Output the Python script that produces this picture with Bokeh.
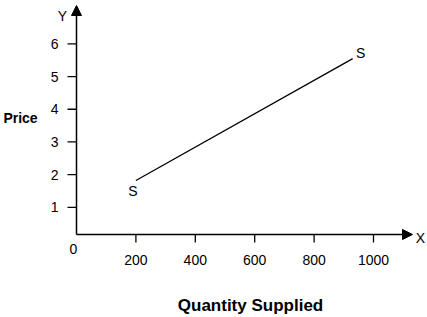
import math
from bokeh.plotting import figure
from bokeh.models import Arrow, NormalHead
from bokeh.core.properties import value
from bokeh.embed import file_html
from bokeh.resources import INLINE

# Data
quantity = [200, 930]
price = [1.82, 5.55]
x_ticks = [200, 400, 600, 800, 1000]
x_tick_labels = ["200", "400", "600", "800", "1000"]
y_ticks = [1, 2, 3, 4, 5, 6]
y_tick_labels = ["1", "2", "3", "4", "5", "6"]

W, H = 427, 317
# pixel geometry of the plotting area
AX_LEFT_PX, AX_BOTTOM_PX = 76, 234
PX_PER_X = 0.297   # px per quantity unit
PX_PER_Y = 32.7    # px per price unit
Y_AT_AXIS = 0.17

X0 = -AX_LEFT_PX / PX_PER_X
X1 = (W - AX_LEFT_PX) / PX_PER_X
Y1 = Y_AT_AXIS + AX_BOTTOM_PX / PX_PER_Y
Y0 = Y_AT_AXIS - (H - AX_BOTTOM_PX) / PX_PER_Y

XA_END = (412 - AX_LEFT_PX) / PX_PER_X   # x-axis arrow tip
YA_END = Y_AT_AXIS + (AX_BOTTOM_PX - 5) / PX_PER_Y  # y-axis arrow tip

def dx(px):
    return px / PX_PER_X

def dy(px):
    return px / PX_PER_Y

p = figure(width=W, height=H, x_range=(X0, X1), y_range=(Y0, Y1),
           output_backend="svg", toolbar_location=None,
           x_axis_location=None, y_axis_location=None,
           min_border=0)
p.outline_line_color = None
p.grid.visible = False
p.background_fill_color = "white"
p.border_fill_color = "white"

# axes with arrow heads
head = dict(size=10, fill_color="black", line_color="black")
p.add_layout(Arrow(x_start=0, y_start=Y_AT_AXIS, x_end=XA_END, y_end=Y_AT_AXIS,
                   line_width=1.5, line_color="black", end=NormalHead(**head)))
p.add_layout(Arrow(x_start=0, y_start=Y_AT_AXIS, x_end=0, y_end=YA_END,
                   line_width=1.5, line_color="black", end=NormalHead(**head)))

# tick marks
p.ray(x=x_ticks, y=[Y_AT_AXIS] * len(x_ticks), length=8, angle=-math.pi / 2,
      length_units="screen", line_color="black", line_width=1.3)
p.ray(x=[0] * len(y_ticks), y=y_ticks, length=9, angle=math.pi,
      length_units="screen", line_color="black", line_width=1.3)

# tick labels
font = value("Liberation Sans")
p.text(x=x_ticks, y=[Y_AT_AXIS - dy(25)] * len(x_ticks), text=x_tick_labels,
       text_font=font, text_font_size="14px", text_align="center",
       text_baseline="middle", text_color="black")
p.text(x=[dx(-18)] * len(y_ticks), y=y_ticks, text=y_tick_labels,
       text_font=font, text_font_size="14px", text_align="right",
       text_baseline="middle", text_color="black")

# supply curve
p.line(quantity, price, line_width=1.3, line_color="black")

def lab(x, y, t, size="14px", bold=False):
    p.text(x=[x], y=[y], text=[t], text_font=font, text_font_size=size,
           text_font_style="bold" if bold else "normal",
           text_align="center", text_baseline="middle", text_color="black")

lab(quantity[0] - dx(3), price[0] - dy(10), "S")
lab(quantity[1] + dx(8), price[1] + dy(6), "S")
lab(dx(-3), Y_AT_AXIS - dy(14), "0")
lab(dx(-14), YA_END - dy(10), "Y", size="14px")
lab(XA_END + dx(8), Y_AT_AXIS - dy(3), "X")
lab(dx(-56), Y_AT_AXIS + dy(117), "Price", size="14px", bold=True)
lab(dx(174), Y_AT_AXIS - dy(71), "Quantity Supplied", size="17px", bold=True)

open("out.html", "w").write(file_html(p, INLINE))
